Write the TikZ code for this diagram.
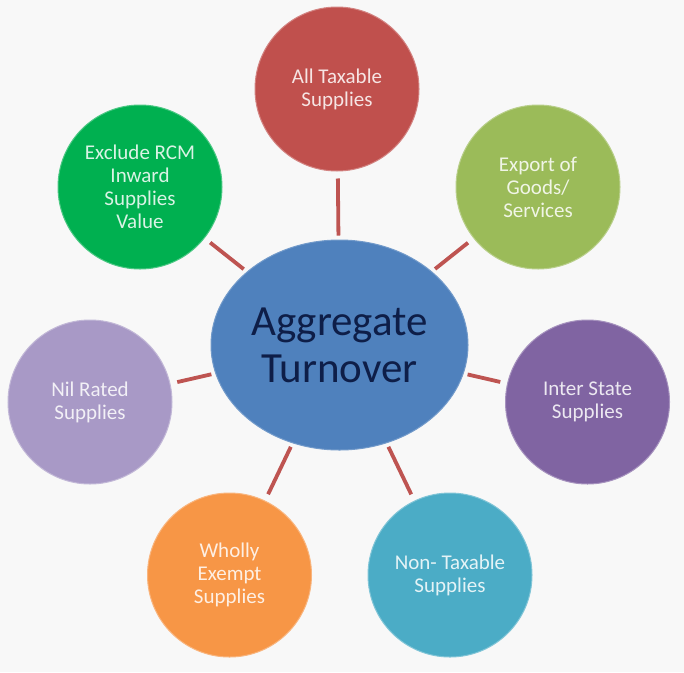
\documentclass[tikz,border=0pt]{standalone}
\usepackage{fontspec}
\setmainfont{Carlito}
\usetikzlibrary{shapes.geometric}
\definecolor{bgc}{HTML}{F8F8F8}
\definecolor{cred}{HTML}{C0504D}
\definecolor{cexp}{HTML}{9BBB59}
\definecolor{cint}{HTML}{8064A2}
\definecolor{cnon}{HTML}{4BACC6}
\definecolor{cwho}{HTML}{F79646}
\definecolor{cnil}{HTML}{A899C6}
\definecolor{cexc}{HTML}{00B050}
\definecolor{cagg}{HTML}{4F81BD}
\definecolor{ctxt}{HTML}{0E1E48}
\definecolor{conn}{HTML}{BE5451}
\tikzset{
  bubble/.style={circle, minimum size=164pt, inner sep=0pt, align=center,
    font=\fontsize{21}{23}\selectfont, line width=1pt},
  linkline/.style={draw=conn, line width=3.8pt, shorten <=4pt, shorten >=7pt}
}
\begin{document}
\begin{tikzpicture}[x=1pt,y=-1pt]
\fill[bgc] (0,0) rectangle (684,672);
\useasboundingbox (0,0) rectangle (684,672);
\node[ellipse, fill=cagg, draw=cagg!80!white, line width=1pt, minimum width=257pt, minimum height=210pt, inner sep=0pt, align=center, text=ctxt, font=\fontsize{43}{47}\selectfont] (agg) at (339.5,345) {Aggregate\\Turnover};
\node[bubble, fill=cred, draw=cred!70!white, text=cred!15!white] (tax) at (337,89) {All Taxable\\Supplies};
\node[bubble, fill=cexp, draw=cexp!70!white, text=cexp!15!white] (exp) at (538,187) {Export of\\Goods/\\Services};
\node[bubble, fill=cint, draw=cint!70!white, text=cint!15!white] (int) at (587.5,402) {Inter State\\Supplies};
\node[bubble, fill=cnon, draw=cnon!70!white, text=cnon!15!white] (non) at (450,575) {Non- Taxable\\Supplies};
\node[bubble, fill=cwho, draw=cwho!70!white, text=cwho!15!white] (who) at (229.5,575) {Wholly\\Exempt\\Supplies};
\node[bubble, fill=cnil, draw=cnil!70!white, text=cnil!15!white] (nil) at (90,402) {Nil Rated\\Supplies};
\node[bubble, fill=cexc, draw=cexc!70!white, text=cexc!15!white] (exc) at (140,187) {Exclude RCM\\Inward\\Supplies\\Value};
\foreach \n in {tax,exp,int,non,who,nil,exc}
  \draw[linkline] (agg) -- (\n);
\end{tikzpicture}
\end{document}
